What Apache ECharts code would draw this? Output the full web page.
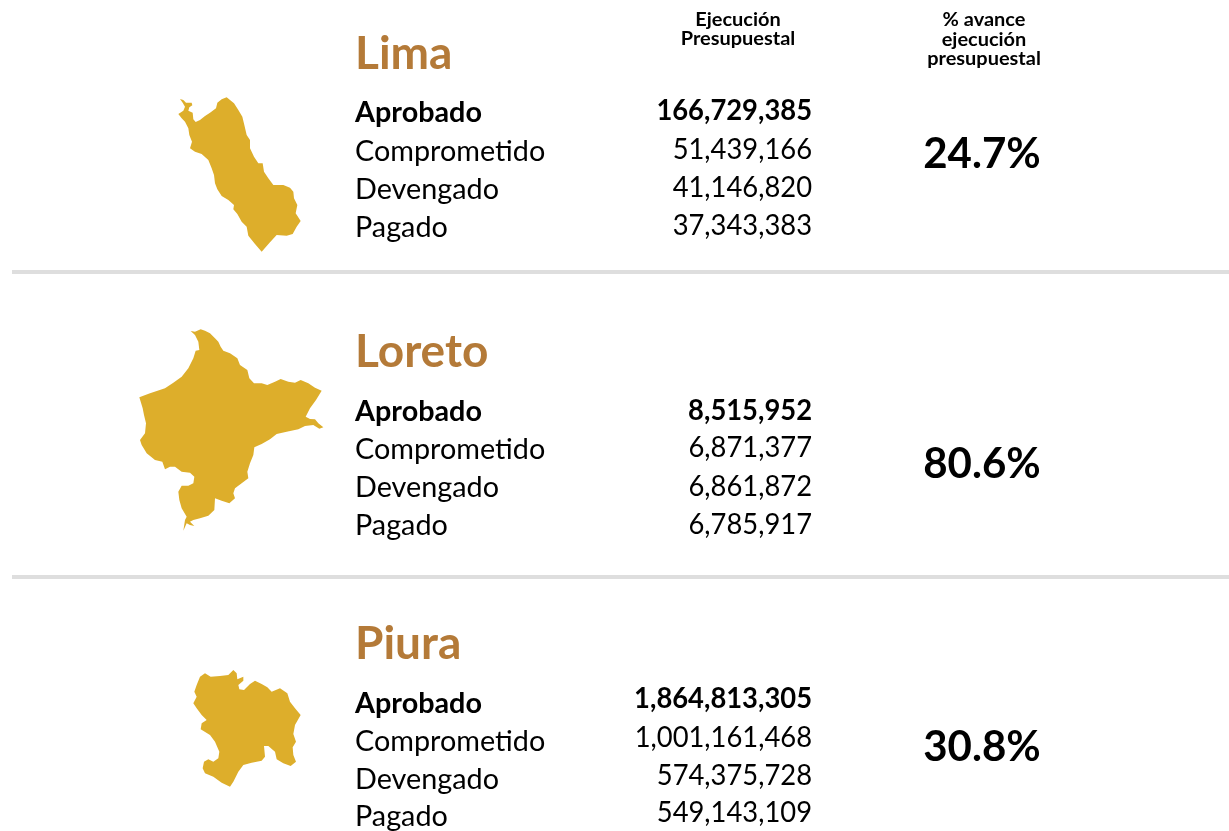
<!DOCTYPE html>
<html><head><meta charset="utf-8">
<style>html,body{margin:0;padding:0;background:#fff}#c{width:1229px;height:831px}</style>
<script src="https://cdn.jsdelivr.net/npm/echarts@6/dist/echarts.min.js"></script>
</head><body><div id="c"></div>
<script>
const regions = ["Lima", "Loreto", "Piura"];
const measures = ["Aprobado", "Comprometido", "Devengado", "Pagado"];
const limaValues = [166729385, 51439166, 41146820, 37343383];
const loretoValues = [8515952, 6871377, 6861872, 6785917];
const piuraValues = [1864813305, 1001161468, 574375728, 549143109];
const avance = ["24.7%", "80.6%", "30.8%"];
const headerBudget = ["Ejecución", "Presupuestal"];
const headerAdvance = ["% avance", "ejecución", "presupuestal"];

const limaOutline = [[150,27],[160,30],[168,38],[185,38],[187,46],[178,52],[175,62],[188,68],[190,88],[197,96],[210,90],[225,78],[240,68],[258,55],[262,38],[275,28],[290,22],[300,30],[312,40],[325,60],[337,80],[343,105],[350,135],[360,150],[360,175],[372,200],[385,220],[398,220],[402,245],[415,265],[430,285],[460,285],[480,293],[490,305],[492,325],[502,345],[497,370],[512,393],[500,410],[488,432],[470,437],[440,435],[420,457],[395,485],[375,462],[355,437],[350,410],[335,395],[322,372],[310,358],[312,345],[295,330],[275,318],[262,298],[255,280],[252,255],[245,235],[235,210],[215,192],[195,185],[180,175],[186,155],[178,135],[175,115],[165,95],[155,85],[145,72],[160,62],[165,50],[158,38]];
const loretoOutline = [[182,33],[195,35],[212,28],[225,32],[240,40],[255,55],[265,65],[272,80],[280,92],[300,100],[322,115],[330,135],[352,150],[358,175],[372,190],[395,190],[412,195],[435,185],[452,177],[475,185],[495,188],[512,180],[535,190],[555,203],[575,212],[558,240],[540,265],[527,290],[540,297],[555,298],[565,310],[580,322],[568,326],[550,315],[525,318],[505,328],[470,335],[440,342],[420,358],[395,372],[373,382],[370,405],[360,430],[352,455],[355,475],[335,490],[315,505],[310,520],[315,535],[298,550],[275,542],[255,535],[253,570],[235,587],[210,595],[190,600],[180,605],[193,618],[180,615],[170,610],[160,632],[165,600],[170,590],[155,565],[148,540],[145,515],[155,497],[175,497],[190,490],[193,470],[180,458],[155,455],[135,440],[120,440],[105,448],[97,425],[75,420],[50,400],[35,375],[30,360],[45,340],[48,310],[42,285],[38,265],[28,232],[60,220],[105,205],[130,188],[155,170],[175,145],[190,115],[197,92],[208,90],[205,65],[195,45]];
const piuraOutline = [[40,130],[50,110],[43,95],[50,75],[60,50],[75,40],[92,50],[120,48],[145,45],[160,30],[170,40],[172,58],[190,50],[190,62],[175,75],[178,88],[192,90],[210,72],[225,62],[245,72],[262,82],[275,95],[300,85],[322,100],[330,125],[345,145],[362,165],[345,195],[340,222],[348,245],[338,262],[340,285],[348,305],[332,318],[310,310],[290,298],[285,275],[265,258],[252,258],[255,290],[245,302],[215,308],[190,315],[175,335],[160,365],[150,380],[125,368],[100,350],[75,340],[68,325],[72,305],[85,298],[100,305],[115,295],[118,275],[105,245],[90,225],[62,208],[65,190],[80,180],[65,165],[50,145]];

const FONT = 'Lato';
const TITLE = '#B47A38', GOLD = '#DDAE2B', INK = '#000', RULE = '#DEDEDE';
const values = [limaValues, loretoValues, piuraValues];
const outlines = [limaOutline, loretoOutline, piuraOutline];
const crops = [[130,90],[130,320],[180,660]];
const titleY = [54, 352, 644];
const labelY = [[113,152,190,228],[412,450,488,526],[704,742,780,817]];
const valueY = [[111,150,188,226],[411,448,487,525],[699,738,776,813]];
const pctY = [154, 464, 747];

function txt(text, x, y, size, weight, align, sx, fill){
  return {type:'text', x, y, scaleX: sx, silent:true,
    style:{text, x:0, y:0, font: weight+' '+size+'px '+FONT, fill: fill||INK, align, verticalAlign:'middle'}};
}
const fmt = v => v.toLocaleString('en-US');
const graphic = [];
regions.forEach((r,i)=>{
  graphic.push(txt(r, 355, titleY[i], 46, 'bold', 'left', 1.0, TITLE));
  measures.forEach((m,j)=>{
    const w = j===0 ? 'bold':'normal';
    graphic.push(txt(m, 355, labelY[i][j], 28.5, w, 'left', 1.01));
    graphic.push(txt(fmt(values[i][j]), 812, valueY[i][j], 28.5, w, 'right', 0.96));
  });
  graphic.push(txt(avance[i], 982, pctY[i], 42, 'bold', 'center', 1.0));
});
headerBudget.forEach((t,i)=>graphic.push(txt(t, 738, 20+i*19, 19, 'bold', 'center', 1.05)));
headerAdvance.forEach((t,i)=>graphic.push(txt(t, 984, 20+i*19.5, 19, 'bold', 'center', 1.05)));
[272, 577].forEach(y=>graphic.push({type:'rect', silent:true, shape:{x:12,y:y-2,width:1217,height:4}, style:{fill:RULE}}));

const series = regions.map((r,i)=>{
  echarts.registerMap(r, {type:'FeatureCollection', features:[{type:'Feature', properties:{name:r},
    geometry:{type:'Polygon', coordinates:[outlines[i].concat([outlines[i][0]]).map(p=>[p[0],-p[1]])]}}]});
  const xs = outlines[i].map(p=>p[0]), ys = outlines[i].map(p=>p[1]);
  const x0=Math.min(...xs), x1=Math.max(...xs), y0=Math.min(...ys), y1=Math.max(...ys);
  return {type:'map', map:r, silent:true, aspectScale:1, roam:false,
    layoutCenter:[crops[i][0]+(x0+x1)/6, crops[i][1]+(y0+y1)/6],
    layoutSize:Math.max(x1-x0,y1-y0)/3,
    label:{show:false}, itemStyle:{areaColor:GOLD, borderWidth:0},
    data:[{name:r, value:values[i][0]}]};
});

const chart = echarts.init(document.getElementById('c'), null, {renderer:'canvas'});
chart.setOption({backgroundColor:'#fff', animation:false, series, graphic});
</script></body></html>
